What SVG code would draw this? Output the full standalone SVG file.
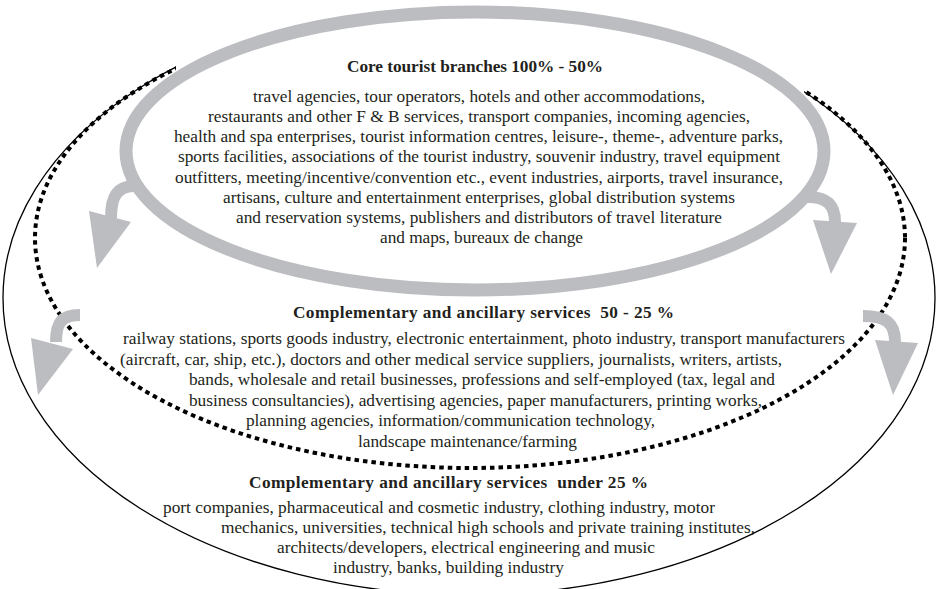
<svg xmlns="http://www.w3.org/2000/svg" width="939" height="589" viewBox="0 0 939 589">
  <style>
    .txt { font-family: "Liberation Serif", "Times New Roman", serif; font-size: 17.3px; fill: #231f20; }
    .ttl { font-family: "Liberation Serif", "Times New Roman", serif; font-size: 17.3px; font-weight: bold; fill: #231f20; }
    .stem { fill: none; stroke: #bcbdc1; stroke-width: 12; }
    .head { fill: #bcbdc1; }
  </style>
  <defs>
    <!-- keep only the parts of the outer rings that are not behind the core ring -->
    <clipPath id="ringClip">
      <rect x="0" y="150" width="939" height="439"/>
      <rect x="0" y="0" width="176" height="150"/>
      <rect x="804" y="0" width="135" height="150"/>
    </clipPath>
  </defs>

  <rect width="939" height="589" fill="#ffffff"/>

  <!-- outer ring: services under 25 % -->
  <g id="ring-outer" clip-path="url(#ringClip)">
    <ellipse cx="469" cy="298" rx="466" ry="297" fill="none" stroke="#000" stroke-width="1.3"/>
  </g>

  <!-- middle ring: services 50 - 25 % -->
  <g id="ring-middle" clip-path="url(#ringClip)">
    <ellipse cx="470" cy="238" rx="435" ry="230" fill="none" stroke="#000" stroke-width="4" stroke-dasharray="4.5 4"/>
  </g>

  <!-- core ring -->
  <g id="ring-core">
    <ellipse cx="475" cy="151" rx="349" ry="139" fill="#ffffff" stroke="#bcbdc1" stroke-width="13"/>
  </g>

  <!-- spill-over arrows -->
  <g id="connectors">
    <path class="stem" d="M133,186 C118,187 111,195 111,218"/>
    <polygon class="head" points="89,211 131,222 97,268"/>

    <path class="stem" d="M808,197 C826,197 835,204 835,222"/>
    <polygon class="head" points="813,220 857,223 831,274"/>

    <path class="stem" d="M80,315 C62,315 56,322 56,342" stroke-width="13"/>
    <polygon class="head" points="31,338 73,349 38,395"/>

    <path class="stem" d="M863,316 C885,316 895,322 895,342" stroke-width="13"/>
    <polygon class="head" points="875,340 918,343 893,395"/>
  </g>

  <!-- core tourist branches -->
  <g id="core">
    <text class="ttl" x="347" y="72" textLength="256">Core tourist branches 100% - 50%</text>
    <text class="txt" x="253" y="102" textLength="452">travel agencies, tour operators, hotels and other accommodations,</text>
    <text class="txt" x="208" y="122" textLength="542">restaurants and other F &amp; B services, transport companies, incoming agencies,</text>
    <text class="txt" x="174" y="142" textLength="609">health and spa enterprises, tourist information centres, leisure-, theme-, adventure parks,</text>
    <text class="txt" x="178" y="162" textLength="602">sports facilities, associations of the tourist industry, souvenir industry, travel equipment</text>
    <text class="txt" x="175" y="183" textLength="608">outfitters, meeting/incentive/convention etc., event industries, airports, travel insurance,</text>
    <text class="txt" x="223" y="203" textLength="512">artisans, culture and entertainment enterprises, global distribution systems</text>
    <text class="txt" x="236" y="223" textLength="486">and reservation systems, publishers and distributors of travel literature</text>
    <text class="txt" x="380" y="243" textLength="203">and maps, bureaux de change</text>
  </g>

  <!-- complementary and ancillary services 50 - 25 % -->
  <g id="middle">
    <text class="ttl" x="293" y="318" textLength="381" xml:space="preserve">Complementary and ancillary services  50 - 25 %</text>
    <text class="txt" x="123" y="344" textLength="722">railway stations, sports goods industry, electronic entertainment, photo industry, transport manufacturers</text>
    <text class="txt" x="120" y="365" textLength="662">(aircraft, car, ship, etc.), doctors and other medical service suppliers, journalists, writers, artists,</text>
    <text class="txt" x="189" y="385" textLength="586">bands, wholesale and retail businesses, professions and self-employed (tax, legal and</text>
    <text class="txt" x="189" y="406" textLength="573">business consultancies), advertising agencies, paper manufacturers, printing works,</text>
    <text class="txt" x="246" y="426" textLength="409">planning agencies, information/communication technology,</text>
    <text class="txt" x="358" y="447" textLength="219">landscape maintenance/farming</text>
  </g>

  <!-- complementary and ancillary services under 25 % -->
  <g id="outer">
    <text class="ttl" x="249" y="488" textLength="399" xml:space="preserve">Complementary and ancillary services  under 25 %</text>
    <text class="txt" x="163" y="513" textLength="552">port companies, pharmaceutical and cosmetic industry, clothing industry, motor</text>
    <text class="txt" x="221" y="533" textLength="534">mechanics, universities, technical high schools and private training institutes,</text>
    <text class="txt" x="277" y="553" textLength="378">architects/developers, electrical engineering and music</text>
    <text class="txt" x="333" y="573" textLength="231">industry, banks, building industry</text>
  </g>
</svg>
